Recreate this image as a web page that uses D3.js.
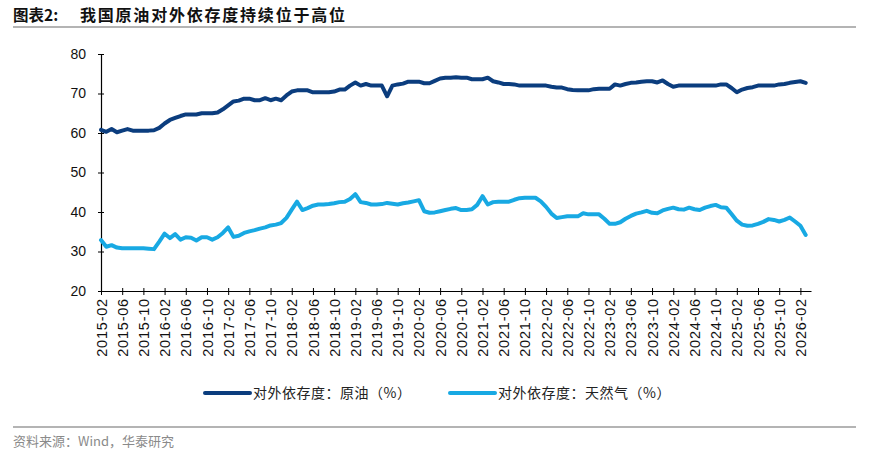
<!DOCTYPE html>
<html>
<head>
<meta charset="utf-8">
<script src="https://cdn.jsdelivr.net/npm/d3@7"></script>
<style>
  body { margin: 0; background: #fff; }
  svg { font-family: "Liberation Sans", Arial, sans-serif; }
  .cjk { font-family: "Noto Sans CJK SC", sans-serif; }
</style>
</head>
<body>
<script>
// monthly data, 2015-02 .. 2026-03
var startMonth = "2015-02"
var tickLabels = ["2015-02","2015-06","2015-10","2016-02","2016-06","2016-10","2017-02","2017-06","2017-10",
  "2018-02","2018-06","2018-10","2019-02","2019-06","2019-10","2020-02","2020-06","2020-10",
  "2021-02","2021-06","2021-10","2022-02","2022-06","2022-10","2023-02","2023-06","2023-10",
  "2024-02","2024-06","2024-10","2025-02","2025-06","2025-10","2026-02"]

var oil = [60.8,60.3,61,60.2,60.6,61,60.6,60.6,60.6,60.6,60.7,61.3,62.4,63.3,63.8,64.3,64.7,64.7,64.7,65,
  65,65,65.2,66,67,68,68.2,68.7,68.7,68.3,68.3,68.8,68.3,68.7,68.3,69.5,70.5,70.8,70.8,70.8,
  70.3,70.3,70.3,70.3,70.5,71,71,72,72.8,72,72.4,72,72,72,69.3,72,72.3,72.5,73,73,
  73,72.6,72.6,73.2,73.8,74,74,74.1,74,74,73.6,73.6,73.6,74,73.1,72.8,72.4,72.4,72.3,72,
  72,72,72,72,72,71.7,71.5,71.5,71.1,70.9,70.8,70.8,70.8,71.1,71.2,71.2,71.2,72.3,72,72.4,
  72.7,72.8,73,73.1,73.1,72.8,73.3,72.4,71.7,72,72,72,72,72,72,72,72,72.3,72.3,71.4,
  70.3,71,71.4,71.6,72,72,72,72,72.3,72.4,72.7,72.9,73.1,72.7]

var gas = [32.9,31.2,31.6,31,30.8,30.8,30.8,30.8,30.8,30.7,30.6,32.5,34.5,33.4,34.4,33,33.6,33.5,32.8,33.6,
  33.6,33,33.6,34.7,36.1,33.7,34,34.7,35.1,35.4,35.8,36.1,36.6,36.8,37.2,38.5,40.6,42.6,40.5,41,
  41.6,41.9,41.9,42,42.2,42.5,42.6,43.3,44.5,42.5,42.3,41.9,41.9,42,42.3,42.1,41.9,42.2,42.4,42.7,
  43,40.2,39.8,39.9,40.2,40.5,40.8,41,40.5,40.5,40.7,41.8,44,41.9,42.5,42.6,42.6,42.6,43.1,43.5,
  43.6,43.6,43.6,42.7,41.3,39.6,38.5,38.7,38.9,38.9,38.9,39.7,39.4,39.4,39.4,38.3,37,37,37.4,38.3,
  39,39.6,39.9,40.3,39.8,39.7,40.4,40.8,41.1,40.7,40.6,41.1,40.7,40.5,41.1,41.5,41.8,41.2,41.1,39.5,
  37.8,36.8,36.5,36.6,37,37.5,38.2,38,37.6,38,38.6,37.6,36.5,34.2]

var yTicks = [20,30,40,50,60,70,80]
var seriesNames = ["对外依存度：原油（%）", "对外依存度：天然气（%）"]
var colors = ["#0b3d7e", "#18a9e3"]

var W = 870, H = 455
var svg = d3.select("body").append("svg").attr("width", W).attr("height", H)

// title
svg.append("text").attr("class", "cjk").attr("x", 13).attr("y", 21)
  .style("font-size", "15.5px").style("font-weight", "bold").attr("fill", "#111")
  .text("图表2:")
svg.append("text").attr("class", "cjk").attr("x", 80).attr("y", 21)
  .style("font-size", "16px").style("font-weight", "bold").attr("fill", "#111")
  .attr("textLength", 265).attr("lengthAdjust", "spacing")
  .text("我国原油对外依存度持续位于高位")

svg.append("line").attr("x1", 13).attr("x2", 856).attr("y1", 27).attr("y2", 27)
  .attr("stroke", "#b4b4b4").attr("stroke-width", 2)

function monthIndex(label) {
  var a = label.split("-").map(Number), b = startMonth.split("-").map(Number)
  return (a[0] - b[0]) * 12 + (a[1] - b[1])
}

var x = d3.scaleLinear().domain([0, 134]).range([101, 811])
var y = d3.scaleLinear().domain([20, 80]).range([291, 54])

// y axis
var yAxis = svg.append("g").attr("transform", "translate(101,0)")
  .call(d3.axisLeft(y).tickValues(yTicks).tickSize(0).tickPadding(15))
yAxis.select(".domain").attr("stroke", "#000").attr("stroke-width", 1.2)
yAxis.selectAll("text").style("font-size", "14px").attr("fill", "#111")
yAxis.selectAll(".tick").append("line").attr("x1", -3).attr("x2", 3).attr("stroke", "#000")

// x axis
var xAxis = svg.append("g").attr("transform", "translate(0,291)")
  .call(d3.axisBottom(x).tickValues(tickLabels.map(monthIndex)).tickSize(0)
    .tickFormat(function(d, i) { return tickLabels[i] }))
xAxis.select(".domain").attr("stroke", "#000").attr("stroke-width", 1.2)
xAxis.selectAll(".tick").append("line").attr("y1", -3).attr("y2", 4).attr("stroke", "#000")
xAxis.selectAll("text")
  .attr("transform", "rotate(-90)")
  .attr("x", -7).attr("y", 0).attr("dy", "0.35em")
  .style("text-anchor", "end").style("font-size", "14.5px").style("letter-spacing", "0.8px")
  .attr("fill", "#111")

// lines
var line = d3.line().x(function(d, i) { return x(i) }).y(function(d) { return y(d) })
;[oil, gas].forEach(function(s, k) {
  svg.append("path").datum(s).attr("d", line)
    .attr("fill", "none").attr("stroke", colors[k]).attr("stroke-width", 4)
    .attr("stroke-linejoin", "round").attr("stroke-linecap", "round")
})

// legend
var legendX = [205, 450]
seriesNames.forEach(function(n, k) {
  svg.append("line").attr("x1", legendX[k]).attr("x2", legendX[k] + 45).attr("y1", 393).attr("y2", 393)
    .attr("stroke", colors[k]).attr("stroke-width", 4).attr("stroke-linecap", "round")
  svg.append("text").attr("class", "cjk").attr("x", legendX[k] + 48).attr("y", 398)
    .style("font-size", "14px").style("letter-spacing", "0.5px").attr("fill", "#222").text(n)
})

// footer
svg.append("line").attr("x1", 13).attr("x2", 856).attr("y1", 427).attr("y2", 427)
  .attr("stroke", "#b4b4b4").attr("stroke-width", 2)
svg.append("text").attr("class", "cjk").attr("x", 13).attr("y", 446)
  .style("font-size", "13px").attr("fill", "#8a8a8a").text("资料来源：Wind，华泰研究")
</script>
</body>
</html>
